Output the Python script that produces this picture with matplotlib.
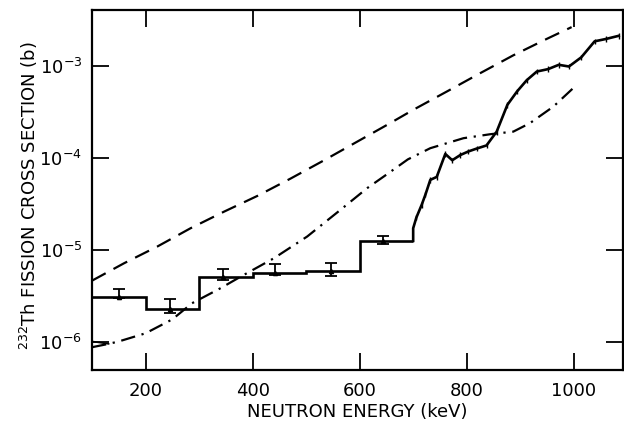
import matplotlib
matplotlib.use("Agg")
import matplotlib.pyplot as plt
import numpy as np

plt.rcParams['font.family'] = ['DejaVu Sans']
plt.rcParams['mathtext.default'] = 'regular'

# Histogram (low energy)
step_edges = [100, 200, 300, 400, 500, 600, 700]
step_values = [3.13e-6, 2.28e-6, 5.15e-6, 5.6e-6, 5.98e-6, 1.256e-5]

# Data points with error bars on the histogram
err_x = [150, 245, 345, 441, 547, 644]
err_y = [3.13e-6, 2.28e-6, 5.15e-6, 5.6e-6, 5.98e-6, 1.256e-5]
err_lo = [2.99e-6, 2.10e-6, 4.74e-6, 5.37e-6, 5.27e-6, 1.16e-5]
err_hi = [3.79e-6, 2.95e-6, 6.23e-6, 7.02e-6, 7.30e-6, 1.42e-5]

# Higher-energy measured curve
curve_x = [700, 700, 706, 716, 723, 732, 744, 760, 773, 788, 803, 819, 837,
           856, 876, 894, 912, 931, 952, 972, 991, 1014, 1039, 1060, 1084]
curve_y = [1.256e-5, 1.72e-5, 2.25e-5, 3.1e-5, 4.0e-5, 5.76e-5, 6.2e-5,
           1.1e-4, 9.4e-5, 1.07e-4, 1.17e-4, 1.26e-4, 1.36e-4,
           1.92e-4, 3.75e-4, 5.23e-4, 6.92e-4, 8.61e-4, 9.14e-4, 1.018e-3,
           9.76e-4, 1.227e-3, 1.83e-3, 1.94e-3, 2.10e-3]

# Dashed calculation
dash_x = [100, 160, 222, 284, 347, 409, 471, 533, 595, 654, 701, 763,
          825, 887, 950, 996]
dash_y = [4.65e-6, 7.19e-6, 1.09e-5, 1.72e-5, 2.61e-5, 3.86e-5, 5.95e-5,
          9.35e-5, 1.49e-4, 2.32e-4, 3.33e-4, 5.23e-4, 8.25e-4, 1.29e-3,
          1.95e-3, 2.61e-3]

# Dash-dot calculation
dd_x = [100, 131, 150, 200, 250, 287, 340, 378, 440, 502, 564, 614, 654,
        690, 732, 794, 844, 887, 918, 962, 999]
dd_y = [8.83e-7, 9.6e-7, 1.02e-6, 1.25e-6, 1.77e-6, 2.65e-6, 3.85e-6,
        5.15e-6, 8.15e-6, 1.40e-5, 2.72e-5, 4.68e-5, 6.81e-5, 9.6e-5,
        1.27e-4, 1.63e-4, 1.80e-4, 1.92e-4, 2.37e-4, 3.59e-4, 5.69e-4]

# small spur at the start of the dash-dot curve
spur_x = [100, 131]
spur_y = [1.02e-6, 9.6e-7]

fig = plt.figure(figsize=(6.24, 4.21), dpi=100)
ax = fig.add_axes([92/624, 1-370/421, (623-92)/624, 360/421])

ax.stairs(step_values, step_edges, color='black', lw=1.9, baseline=None)
ax.plot(curve_x, curve_y, color='black', lw=1.9)
yerr_small = [np.array(curve_y[2:]) * 0.07, np.array(curve_y[2:]) * 0.07]
ax.errorbar(curve_x[2:], curve_y[2:], yerr=yerr_small, fmt='none',
            ecolor='black', elinewidth=1.0, capsize=0)

lo = np.array(err_y) - np.array(err_lo)
hi = np.array(err_hi) - np.array(err_y)
ax.errorbar(err_x, err_y, yerr=[lo, hi], fmt='^', color='black', ms=3,
            elinewidth=1.3, capsize=4, capthick=1.3)

ax.plot(dash_x, dash_y, color='black', lw=1.6, dashes=(7, 4))
ax.plot(dd_x, dd_y, color='black', lw=1.6, dashes=(6.5, 3, 1.0, 3))
ax.plot(spur_x, spur_y, color='black', lw=1.2)

ax.set_yscale('log')
ax.set_xlim(100, 1092)
ax.set_ylim(5.0e-7, 4.0e-3)
ax.set_xticks([200, 400, 600, 800, 1000])
ax.set_yticks([1e-6, 1e-5, 1e-4, 1e-3])
ax.minorticks_off()
ax.tick_params(which='major', direction='in', length=12, width=1.3,
               top=True, right=True, labelsize=13, colors='black')
ax.tick_params(axis='x', pad=9)
ax.tick_params(axis='y', pad=7)
for s in ax.spines.values():
    s.set_linewidth(1.6)

ax.set_xlabel('NEUTRON ENERGY (keV)', fontsize=13, labelpad=2)
fig.text(29/624, 1-196/421, r'$^{232}$Th FISSION CROSS SECTION (b)',
         rotation=90, fontsize=13, ha='center', va='center')

fig.savefig('out.png', dpi=100)
